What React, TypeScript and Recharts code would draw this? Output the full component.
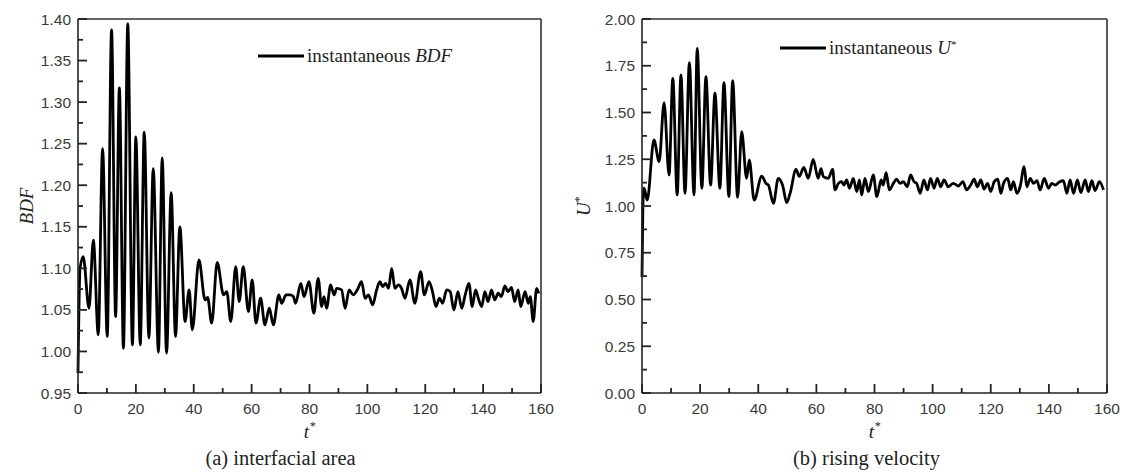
import React from 'react';
import { LineChart, Line, XAxis, YAxis, Legend } from 'recharts';

// ---------- data: (a) interfacial area ----------
const bdfTime = [
  0, 0.7, 1.8, 3.8, 5.3, 7.0, 8.5, 10.1, 11.6, 13.0,
  14.3, 15.7, 17.2, 18.8, 20.0, 21.5, 22.9, 24.5, 26.0, 27.8,
  29.1, 30.6, 32.2, 33.7, 35.2, 37.0, 38.4, 39.5, 41.8, 43.9,
  44.8, 46.2, 48.1, 50.3, 51.4, 52.8, 54.5, 55.7, 57.1, 58.9,
  60.2, 61.5, 63.1, 64.6, 66.1, 67.5, 69.4, 70.4, 71.9, 73.3,
  74.4, 75.2, 77.0, 78.1, 79.8, 81.5, 83.0, 84.2, 85.0, 85.9,
  87.3, 88.5, 89.4, 91.1, 92.3, 93.7, 95.1, 96.5, 98.0, 99.2,
  100.4, 101.8, 103.2, 104.3, 105.3, 106.3, 107.3, 108.4, 109.5, 110.7,
  111.8, 113.0, 114.7, 116.4, 118.4, 119.7, 121.3, 122.5, 123.7, 124.9,
  126.0, 127.4, 128.6, 129.9, 131.3, 132.6, 133.8, 135.1, 136.2, 137.4,
  138.5, 139.5, 140.6, 141.7, 142.9, 144.0, 145.2, 146.3, 147.5, 148.6,
  149.8, 150.9, 152.1, 153.0, 154.5, 155.6, 156.3, 157.3, 158.5, 159.2,
];
const bdfValue = [
  0.974, 1.100, 1.114, 1.052, 1.134, 1.020, 1.244, 1.018, 1.387, 1.042,
  1.317, 1.004, 1.394, 1.008, 1.258, 1.008, 1.264, 1.016, 1.220, 0.999,
  1.233, 0.998, 1.191, 1.018, 1.150, 1.036, 1.074, 1.026, 1.110, 1.062,
  1.065, 1.034, 1.107, 1.068, 1.072, 1.036, 1.102, 1.060, 1.102, 1.048,
  1.086, 1.034, 1.064, 1.032, 1.052, 1.032, 1.068, 1.058, 1.068, 1.068,
  1.066, 1.058, 1.082, 1.066, 1.084, 1.046, 1.088, 1.054, 1.066, 1.052,
  1.080, 1.068, 1.076, 1.074, 1.052, 1.074, 1.068, 1.074, 1.084, 1.064,
  1.068, 1.056, 1.074, 1.084, 1.078, 1.082, 1.076, 1.100, 1.076, 1.080,
  1.076, 1.064, 1.086, 1.058, 1.096, 1.068, 1.084, 1.072, 1.054, 1.064,
  1.058, 1.074, 1.072, 1.050, 1.072, 1.052, 1.068, 1.082, 1.054, 1.074,
  1.062, 1.054, 1.072, 1.060, 1.074, 1.062, 1.070, 1.066, 1.079, 1.072,
  1.077, 1.060, 1.074, 1.054, 1.072, 1.058, 1.066, 1.036, 1.076, 1.070,
];

// ---------- data: (b) rising velocity ----------
const uTime = [
  0, 0.3, 0.7, 1.8, 4.1, 5.9, 7.6, 9.3, 10.6, 12.1,
  13.4, 14.8, 16.3, 17.9, 19.0, 20.6, 22.0, 23.6, 25.1, 26.8,
  28.2, 29.9, 31.2, 32.9, 34.3, 36.0, 36.9, 38.6, 41.2, 42.7,
  43.5, 45.2, 46.9, 48.4, 49.8, 51.0, 53.0, 54.1, 55.7, 57.2,
  58.9, 60.6, 61.6, 62.4, 64.1, 65.6, 66.4, 67.6, 68.7, 69.5,
  70.4, 71.4, 72.7, 73.9, 74.8, 75.6, 76.7, 77.9, 79.6, 80.8,
  82.3, 83.0, 84.0, 85.1, 86.5, 87.6, 88.8, 89.9, 91.3, 92.4,
  93.6, 94.5, 95.7, 97.0, 98.2, 99.3, 100.5, 101.6, 102.8, 103.9,
  105.4, 107.1, 108.9, 110.4, 111.7, 113.1, 114.3, 115.4, 116.6, 117.7,
  118.9, 120.0, 121.2, 122.4, 123.5, 124.4, 125.8, 126.9, 127.8, 129.0,
  130.1, 131.5, 132.4, 133.6, 134.7, 135.9, 137.0, 138.4, 139.9, 141.0,
  142.2, 143.7, 145.0, 146.2, 147.3, 148.5, 149.8, 151.0, 152.5, 153.6,
  154.8, 155.9, 157.4, 158.8,
];
const uValue = [
  0.62, 1.00, 1.095, 1.032, 1.353, 1.237, 1.553, 1.166, 1.683, 1.059,
  1.701, 1.068, 1.766, 1.059, 1.843, 1.095, 1.692, 1.112, 1.603, 1.095,
  1.659, 1.050, 1.670, 1.046, 1.397, 1.148, 1.246, 1.032, 1.160, 1.120,
  1.112, 1.014, 1.148, 1.110, 1.018, 1.070, 1.196, 1.158, 1.207, 1.148,
  1.249, 1.148, 1.200, 1.157, 1.148, 1.196, 1.086, 1.121, 1.130, 1.112,
  1.139, 1.095, 1.148, 1.077, 1.139, 1.059, 1.148, 1.077, 1.166, 1.050,
  1.139, 1.112, 1.178, 1.086, 1.121, 1.143, 1.121, 1.130, 1.103, 1.166,
  1.130, 1.121, 1.068, 1.139, 1.086, 1.148, 1.095, 1.148, 1.103, 1.139,
  1.103, 1.121, 1.107, 1.130, 1.086, 1.112, 1.143, 1.103, 1.139, 1.090,
  1.121, 1.077, 1.130, 1.143, 1.068, 1.121, 1.148, 1.086, 1.130, 1.068,
  1.103, 1.210, 1.103, 1.148, 1.121, 1.135, 1.086, 1.148, 1.095, 1.121,
  1.112, 1.130, 1.135, 1.068, 1.139, 1.068, 1.139, 1.072, 1.139, 1.077,
  1.135, 1.082, 1.130, 1.086,
];

// ---------- ticks ----------
const xMajorTicks = [0, 20, 40, 60, 80, 100, 120, 140, 160];
const xMinorTicks = [10, 30, 50, 70, 90, 110, 130, 150];
const bdfMajorTicks = [0.95, 1.0, 1.05, 1.1, 1.15, 1.2, 1.25, 1.3, 1.35, 1.4];
const bdfMinorTicks = [0.975, 1.025, 1.075, 1.125, 1.175, 1.225, 1.275, 1.325, 1.375];
const uMajorTicks = [0, 0.25, 0.5, 0.75, 1.0, 1.25, 1.5, 1.75, 2.0];
const uMinorTicks = [0.125, 0.375, 0.625, 0.875, 1.125, 1.375, 1.625, 1.875];

const SERIF = '"Liberation Serif", "Times New Roman", serif';
const SANS = '"Liberation Sans", Arial, sans-serif';
const AXIS = '#222';
const TICKC = '#222';
const TICK_TEXT = '#3a3a3a';

const isMajor = (v: number, majors: number[]) => majors.some((m) => Math.abs(m - v) < 1e-6);

const XTick = (props: any) => {
  const { x, y, payload, majors } = props;
  const major = isMajor(payload.value, majors);
  return (
    <g>
      <path d={`M${x},${y}L${x},${y - (major ? 9 : 5)}`} stroke={TICKC} strokeWidth={1.8} fill="none" />
      {major && (
        <text x={x} y={y + 21} textAnchor="middle" fontFamily={SANS} fontSize={15.5} fill={TICK_TEXT}>
          {payload.value}
        </text>
      )}
    </g>
  );
};

const YTick = (props: any) => {
  const { x, y, payload, majors } = props;
  const major = isMajor(payload.value, majors);
  return (
    <g>
      <path d={`M${x},${y}L${x + (major ? 9 : 5)},${y}`} stroke={TICKC} strokeWidth={1.8} fill="none" />
      {major && (
        <text x={x - 7} y={y} dy="0.36em" textAnchor="end" fontFamily={SANS} fontSize={15.5} fill={TICK_TEXT}>
          {Number(payload.value).toFixed(2)}
        </text>
      )}
    </g>
  );
};

type PanelProps = {
  time: number[];
  value: number[];
  yDomain: [number, number];
  yMajors: number[];
  yMinors: number[];
  width: number;
  plotLeft: number;
  yTitle: React.ReactNode;
  yTitleDx: number;
  caption: string;
  captionDx: number;
  legendLeft: number;
  legendTop: number;
  legendLabel: React.ReactNode;
};

const PLOT_TOP = 19;
const PLOT_BOTTOM = 393;
const HEIGHT = 475;

function Panel(p: PanelProps) {
  const data = p.time.map((t, i) => ({ t, v: p.value[i] }));
  const plotRight = p.width - 19;
  const yTitleContent = (props: any) => {
    const vb = props.viewBox || { x: p.plotLeft - 60, y: PLOT_TOP, width: 60, height: PLOT_BOTTOM - PLOT_TOP };
    const cx = vb.x + vb.width + p.yTitleDx;
    const cy = vb.y + vb.height / 2;
    return (
      <text x={cx} y={cy} transform={`rotate(-90, ${cx}, ${cy})`} textAnchor="middle" fontFamily={SERIF} fontSize={19} fill="#222">
        {p.yTitle}
      </text>
    );
  };
  const xTitleContent = (props: any) => {
    const vb = props.viewBox || { x: p.plotLeft, y: PLOT_BOTTOM, width: plotRight - p.plotLeft, height: 30 };
    const cx = vb.x + vb.width / 2;
    return (
      <g>
        <text x={cx} y={vb.y + 45} textAnchor="middle" fontFamily={SERIF} fontSize={19} fontStyle="italic" fill="#222">
          t
          <tspan dy={-8} fontSize={12}>
            *
          </tspan>
        </text>
        <text x={cx + p.captionDx} y={vb.y + 72} textAnchor="middle" fontFamily={SERIF} fontSize={20.5} fill="#222">
          {p.caption}
        </text>
      </g>
    );
  };
  const legendContent = () => (
    <div style={{ display: 'flex', alignItems: 'center', height: 22, lineHeight: '22px', fontFamily: SERIF, fontSize: 19, color: '#222', whiteSpace: 'nowrap' }}>
      <svg width={46} height={6} style={{ display: 'block' }}>
        <line x1={0} y1={3} x2={46} y2={3} stroke="#000" strokeWidth={2.8} />
      </svg>
      <span style={{ marginLeft: 3 }}>{p.legendLabel}</span>
    </div>
  );

  return (
    <LineChart
      width={p.width}
      height={HEIGHT}
      data={data}
      margin={{ top: PLOT_TOP - 1, right: p.width - plotRight - 1, bottom: HEIGHT - PLOT_BOTTOM - 30, left: p.plotLeft - 60 }}
    >
      <XAxis
        dataKey="t"
        type="number"
        domain={[0, 160]}
        ticks={[...xMajorTicks, ...xMinorTicks].sort((a, b) => a - b)}
        interval={0}
        tickSize={0}
        tickMargin={0}
        height={30}
        axisLine={{ stroke: AXIS, strokeWidth: 1.6 }}
        tickLine={false}
        tick={(tp: any) => <XTick {...tp} majors={xMajorTicks} />}
        label={xTitleContent}
      />
      <XAxis
        xAxisId="top"
        orientation="top"
        dataKey="t"
        type="number"
        domain={[0, 160]}
        ticks={[0, 160]}
        height={1}
        tick={false}
        tickLine={false}
        axisLine={{ stroke: '#333', strokeWidth: 1.6 }}
      />
      <YAxis
        type="number"
        domain={p.yDomain}
        allowDataOverflow
        ticks={[...p.yMajors, ...p.yMinors].sort((a, b) => a - b)}
        interval={0}
        tickSize={0}
        tickMargin={0}
        width={60}
        axisLine={{ stroke: AXIS, strokeWidth: 1.6 }}
        tickLine={false}
        tick={(tp: any) => <YTick {...tp} majors={p.yMajors} />}
        label={yTitleContent}
      />
      <YAxis
        yAxisId="right"
        orientation="right"
        type="number"
        domain={p.yDomain}
        ticks={p.yDomain}
        width={1}
        tick={false}
        tickLine={false}
        axisLine={{ stroke: '#333', strokeWidth: 1.6 }}
      />
      <Legend
        layout="vertical"
        align="center"
        verticalAlign="middle"
        wrapperStyle={{ top: p.legendTop, left: p.legendLeft, width: 'auto', height: 'auto' }}
        content={legendContent}
      />
      <Line dataKey="v" type="monotone" stroke="#000" strokeWidth={2.8} strokeLinejoin="round" dot={false} activeDot={false} isAnimationActive={false} />
    </LineChart>
  );
}

export default function App() {
  return (
    <div style={{ position: 'absolute', left: 0, top: 0, width: 1126, height: 475, background: '#fff' }}>
      <div style={{ position: 'absolute', left: 0, top: 0 }}>
        <Panel
          time={bdfTime}
          value={bdfValue}
          yDomain={[0.95, 1.4]}
          yMajors={bdfMajorTicks}
          yMinors={bdfMinorTicks}
          width={560}
          plotLeft={78}
          yTitle={<tspan fontStyle="italic">BDF</tspan>}
          yTitleDx={-45}
          caption="(a) interfacial area"
          captionDx={-29}
          legendLeft={258}
          legendTop={45}
          legendLabel={<>instantaneous <i>BDF</i></>}
        />
      </div>
      <div style={{ position: 'absolute', left: 560, top: 0 }}>
        <Panel
          time={uTime}
          value={uValue}
          yDomain={[0, 2]}
          yMajors={uMajorTicks}
          yMinors={uMinorTicks}
          width={566}
          plotLeft={82}
          yTitle={
            <>
              <tspan fontStyle="italic">U</tspan>
              <tspan dy={-7} fontSize={12}>*</tspan>
            </>
          }
          yTitleDx={-52}
          caption="(b) rising velocity"
          captionDx={-8}
          legendLeft={220}
          legendTop={37}
          legendLabel={
            <>
              instantaneous <i>U</i>
              <sup style={{ fontSize: 11, verticalAlign: 'top', lineHeight: '14px' }}>*</sup>
            </>
          }
        />
      </div>
    </div>
  );
}
